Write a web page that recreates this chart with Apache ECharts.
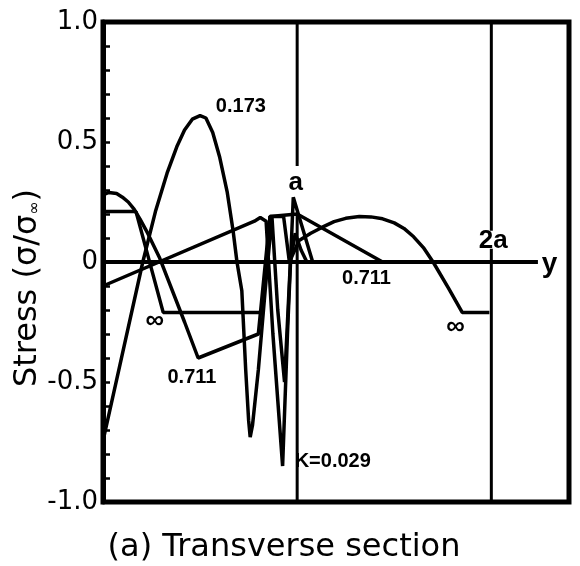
<!DOCTYPE html>
<html>
<head>
<meta charset="utf-8">
<script src="https://cdn.jsdelivr.net/npm/echarts@6/dist/echarts.min.js"></script>
<style>
html, body { margin: 0; padding: 0; background: #fff; }
#chart { width: 580px; height: 566px; }
</style>
</head>
<body>
<div id="chart"></div>
<script>
// position across the section, in units of a; stress in sigma/sigma_inf
const xInf = [0, 0.17, 0.31, 0.82, 0.86, 0.93, 0.96, 1.01, 1.07, 1.13, 1.19, 1.25, 1.32, 1.38, 1.44, 1.50, 1.55, 1.60, 1.65, 1.70, 1.78, 1.85, 1.99]
const yInf = [0.21, 0.21, -0.21, -0.21, 0.19, 0.19, 0.0, 0.09, 0.12, 0.145, 0.168, 0.182, 0.19, 0.188, 0.18, 0.163, 0.14, 0.105, 0.06, 0.0, -0.11, -0.21, -0.21]

const x711 = [0, 0.03, 0.07, 0.10, 0.13, 0.16, 0.19, 0.23, 0.29, 0.42, 0.49, 0.80, 0.86, 1.0, 1.44]
const y711 = [0.28, 0.29, 0.285, 0.27, 0.25, 0.22, 0.18, 0.12, 0.02, -0.25, -0.40, -0.30, 0.19, 0.20, 0.0]

const x173 = [0, 0.087, 0.205, 0.27, 0.33, 0.38, 0.42, 0.46, 0.50, 0.53, 0.565, 0.60, 0.64, 0.67, 0.69, 0.715, 0.735, 0.75, 0.758, 0.77, 0.80, 0.835, 0.87, 0.90, 0.935, 0.965, 0.99, 1.02, 1.05]
const y173 = [-0.745, -0.43, 0.0, 0.21, 0.37, 0.48, 0.55, 0.595, 0.61, 0.60, 0.54, 0.44, 0.29, 0.13, 0.0, -0.12, -0.45, -0.66, -0.73, -0.68, -0.45, -0.12, 0.19, -0.2, -0.5, 0.0, 0.12, 0.05, 0.0]

const x029 = [0, 0.78, 0.81, 0.84, 0.875, 0.925, 0.95, 0.98, 1.08]
const y029 = [-0.10, 0.17, 0.185, 0.17, -0.3, -0.85, -0.3, 0.27, 0.0]

const yTicks = [-1.0, -0.5, 0, 0.5, 1.0]

// reference lines: y axis (zero line) and the verticals at a and 2a
const zeroLine = [[0, 0], [2.24, 0]]
const aLineTop = [[1, 1], [1, 0.40]]
const aLineLow = [[1, 0.2], [1, -1]]
const twoALineTop = [[2, 1], [2, 0.13]]
const twoALineLow = [[2, 0.055], [2, -1]]

// annotations in data coordinates
const notes = [
  { text: '0.173', x: 0.71, y: 0.646 },
  { text: '0.711', x: 0.458, y: -0.48 },
  { text: '0.711', x: 1.357, y: -0.07 },
  { text: '∞', x: 0.267, y: -0.245, size: 26 },
  { text: '∞', x: 1.815, y: -0.27, size: 26 },
  { text: 'K=0.029', x: 0.987, y: -0.83, align: 'left' },
  { text: 'a', x: 0.992, y: 0.33, size: 26 },
  { text: '2a', x: 2.01, y: 0.09, size: 26 },
  { text: 'y', x: 2.30, y: -0.01, size: 28 }
]

const pair = (xs, ys) => xs.map((x, i) => [x, ys[i]])

const chart = echarts.init(document.getElementById('chart'))

const curve = (data, w) => ({
  type: 'line',
  data,
  symbol: 'none',
  silent: true,
  lineStyle: { color: '#000', width: w || 3.5 },
  z: 3
})

chart.setOption({
  animation: false,
  backgroundColor: '#fff',
  grid: {
    left: 103, right: 11, top: 22, bottom: 64,
    show: true, borderColor: '#000', borderWidth: 5
  },
  title: {
    text: '(a) Transverse section',
    left: 279, top: 527, textAlign: 'center',
    textStyle: { fontFamily: 'DejaVu Sans', fontSize: 32, fontWeight: 'normal', color: '#000' }
  },
  xAxis: {
    type: 'value', min: 0, max: 2.4,
    axisLine: { show: false },
    axisTick: { show: false },
    axisLabel: { show: false },
    splitLine: { show: false }
  },
  yAxis: {
    type: 'value', min: -1, max: 1, interval: 0.1,
    axisLine: { show: true, lineStyle: { color: '#000', width: 5 } },
    axisTick: { show: true, inside: true, length: 7, lineStyle: { color: '#000', width: 2.5 } },
    axisLabel: {
      margin: 5, fontFamily: 'DejaVu Sans', fontSize: 26, color: '#000',
      formatter: v => {
        const t = yTicks.find(k => Math.abs(k - v) < 1e-6)
        if (t === undefined) return ''
        return t === 0 ? '0' : t.toFixed(1)
      }
    },
    splitLine: { show: false }
  },
  series: [
    curve(zeroLine, 4),
    curve(aLineTop, 3),
    curve(aLineLow, 3),
    curve(twoALineTop, 3),
    curve(twoALineLow, 3),
    curve(pair(xInf, yInf)),
    curve(pair(x711, y711)),
    curve(pair(x173, y173)),
    curve(pair(x029, y029))
  ]
})

const graphic = notes.map(n => {
  const p = chart.convertToPixel({ gridIndex: 0 }, [n.x, n.y])
  return {
    type: 'text',
    x: p[0], y: p[1],
    silent: true,
    style: {
      text: n.text,
      fill: '#000',
      font: 'bold ' + (n.size || 20) + 'px "Liberation Sans"',
      align: n.align || 'center',
      verticalAlign: 'middle'
    },
    z: 10
  }
})

// axis title, rotated, with the infinity subscript
graphic.push({
  type: 'text',
  x: 28, y: 288,
  rotation: Math.PI / 2,
  silent: true,
  style: {
    text: 'Stress (σ/σ{s|∞})',
    fill: '#000',
    fontFamily: 'DejaVu Sans',
    fontSize: 32,
    align: 'center',
    verticalAlign: 'middle',
    rich: { s: { fontFamily: 'DejaVu Sans', fontSize: 16, fill: '#000', padding: [14, 0, 0, 0] } }
  },
  z: 10
})
chart.setOption({ graphic })
</script>
</body>
</html>
